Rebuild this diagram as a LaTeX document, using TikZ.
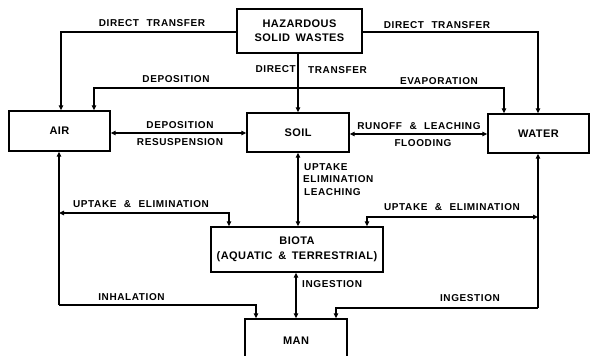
\documentclass[tikz,border=0pt]{standalone}
\usepackage{fontspec}
\setmainfont{Liberation Sans}
\newfontfamily\lblfont{Liberation Sans}[LetterSpace=6,WordSpace=2.2]
\newfontfamily\boxfont{Liberation Sans}[LetterSpace=4,WordSpace=1.6]
\usetikzlibrary{arrows.meta}
\begin{document}
\begin{tikzpicture}[x=1pt,y=-1pt,
  box/.style={draw,line width=1.4pt,align=center,inner sep=0pt,font=\boxfont\fontsize{11}{14}\selectfont\bfseries},
  lbl/.style={inner sep=0pt,font=\lblfont\fontsize{10}{14}\selectfont\bfseries},
  conn/.style={line width=1.3pt},
  one/.style={conn,-{Triangle[length=5pt,width=4.5pt]}},
  two/.style={conn,{Triangle[length=5pt,width=4.5pt]}-{Triangle[length=5pt,width=4.5pt]}}]
\useasboundingbox[fill=white] (0,0) rectangle (590,356);
% boxes
\node[box,minimum width=125pt,minimum height=44pt] (haz) at (299.5,31) {HAZARDOUS\\SOLID WASTES};
\node[box,minimum width=101pt,minimum height=40pt] (air) at (59.5,131) {AIR};
\node[box,minimum width=102pt,minimum height=39pt] (soil) at (298,132.5) {SOIL};
\node[box,minimum width=101pt,minimum height=39pt] (water) at (538.5,133.5) {WATER};
\node[box,minimum width=172pt,minimum height=45pt,font=\boxfont\fontsize{11}{15}\selectfont\bfseries] (biota) at (297,249.5) {BIOTA\\(AQUATIC \& TERRESTRIAL)};
\node[box,minimum width=102pt,minimum height=43pt] (man) at (296,340.5) {MAN};
% bend points
\coordinate (a1) at (61,32);
\coordinate (w1) at (538,32);
\coordinate (dl) at (94,88);
\coordinate (dr) at (504,88);
\coordinate (as) at (0,133);
\coordinate (sw) at (0,134);
\coordinate (L1) at (59,213);
\coordinate (L2) at (59,305);
\coordinate (bl) at (229,213);
\coordinate (ml) at (256,305);
\coordinate (R1) at (538,217);
\coordinate (R2) at (538,308);
\coordinate (br) at (367,217);
\coordinate (mr) at (336,308);
\coordinate (bm) at (296,0);
% connectors
\draw[one] (haz.west |- a1) -- (a1) -- (a1 |- air.north);
\draw[one] (haz.east |- w1) -- (w1) -- (w1 |- water.north);
\draw[one] (haz.south -| soil.north) -- (soil.north);
\draw[two] (dl |- air.north) -- (dl) -- (dr) -- (dr |- water.north);
\draw[two] (air.east |- as) -- (soil.west |- as);
\draw[two] (soil.east |- sw) -- (water.west |- sw);
\draw[two] (soil.south) -- (soil.south |- biota.north);
\draw[two] (biota.south -| bm) -- (man.north -| bm);
\draw[one] (L2) -- (L2 |- air.south);
\draw[two] (L1) -- (bl) -- (bl |- biota.north);
\draw[one] (L2) -- (ml) -- (ml |- man.north);
\draw[one] (R2) -- (R2 |- water.south);
\draw[two] (br |- biota.north) -- (br) -- (R1);
\draw[one] (R2) -- (mr) -- (mr |- man.north);
% labels
\node[lbl] (t1) at (152,23) {DIRECT TRANSFER};
\node[lbl] (t2) at (437,25) {DIRECT TRANSFER};
\node[lbl,anchor=east] (t3) at (296,69) {DIRECT};
\node[lbl,anchor=west] (t4) at (308,70) {TRANSFER};
\node[lbl] (t5) at (176,79) {DEPOSITION};
\node[lbl] (t6) at (439,81) {EVAPORATION};
\node[lbl] (t7) at (180,125) {DEPOSITION};
\node[lbl] (t8) at (180,142) {RESUSPENSION};
\node[lbl] (t9) at (419,126) {RUNOFF \& LEACHING};
\node[lbl] (t10) at (423,143) {FLOODING};
\node[lbl,anchor=west] (t11) at (304,167) {UPTAKE};
\node[lbl,anchor=west] (t12) at (303,179) {ELIMINATION};
\node[lbl,anchor=west] (t13) at (304,192) {LEACHING};
\node[lbl] (t14) at (141,204) {UPTAKE \& ELIMINATION};
\node[lbl] (t15) at (452,207) {UPTAKE \& ELIMINATION};
\node[lbl] (t16) at (131.5,297) {INHALATION};
\node[lbl,anchor=west] (t17) at (302,284) {INGESTION};
\node[lbl] (t18) at (470,298) {INGESTION};
\end{tikzpicture}
\end{document}
